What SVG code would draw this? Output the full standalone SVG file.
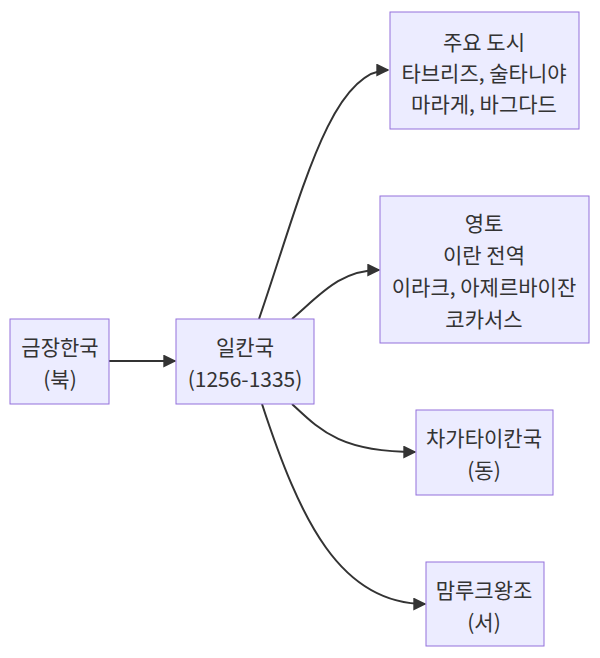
<svg xmlns="http://www.w3.org/2000/svg" width="600" height="658" viewBox="0 0 600 658">
<style>
.n rect{fill:#ECECFF;stroke:#9370DB;stroke-width:1}
.n text{font-family:"Noto Sans CJK KR","Noto Sans",sans-serif;font-size:21px;fill:#333;text-anchor:middle;dominant-baseline:central}
.e path{fill:none;stroke:#333;stroke-width:2;marker-end:url(#a)}
</style>
<defs><marker id="a" viewBox="0 0 10 10" refX="9" refY="5" markerWidth="13" markerHeight="13" markerUnits="userSpaceOnUse" orient="auto"><path d="M0,0L10,5L0,10z" fill="#333"/></marker></defs>
<rect width="600" height="658" fill="#fff"/>
<g class="e">
<path d="M109,361L175,361"/>
<path d="M259,319C300,200 330,70 388,70"/>
<path d="M292,319C320,295 340,270 379,270"/>
<path d="M292,404C320,430 340,452 415,452"/>
<path d="M262,404C300,520 340,604 425,604"/>
</g>
<g class="n" id="gold"><rect x="10" y="319" width="99" height="85"/><text x="60" y="346">금장한국</text><text x="60" y="378">(북)</text></g>
<g class="n" id="il"><rect x="176" y="319" width="138" height="85"/><text x="245" y="346">일칸국</text><text x="245" y="378">(1256-1335)</text></g>
<g class="n" id="city"><rect x="390" y="12" width="189" height="117"/><text x="484" y="41">주요 도시</text><text x="484" y="72">타브리즈, 술타니야</text><text x="484" y="103">마라게, 바그다드</text></g>
<g class="n" id="terr"><rect x="380" y="196" width="209" height="147"/><text x="484" y="222">영토</text><text x="484" y="254">이란 전역</text><text x="484" y="286">이라크, 아제르바이잔</text><text x="484" y="318">코카서스</text></g>
<g class="n" id="chag"><rect x="416" y="410" width="137" height="85"/><text x="484" y="437">차가타이칸국</text><text x="484" y="469">(동)</text></g>
<g class="n" id="mam"><rect x="426" y="562" width="118" height="84"/><text x="484" y="589">맘루크왕조</text><text x="484" y="621">(서)</text></g>
</svg>
